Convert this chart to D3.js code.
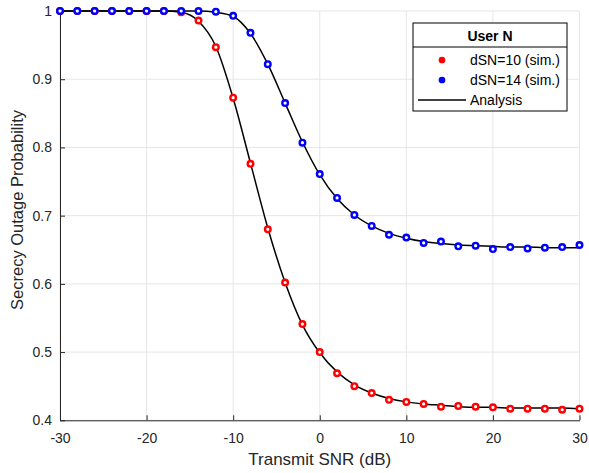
<!DOCTYPE html>
<html>
<head>
<meta charset="utf-8">
<script src="https://cdn.jsdelivr.net/npm/d3@7"></script>
<style>
  html, body { margin: 0; padding: 0; background: #fff; overflow: hidden; }
  svg { display: block; font-family: "Liberation Sans", Arial, sans-serif; }
</style>
</head>
<body>
<svg width="589" height="473"></svg>
<script>
// SNR points (dB)
const snr = [-30, -28, -26, -24, -22, -20, -18, -16, -14, -12, -10, -8, -6, -4, -2,
             0, 2, 4, 6, 8, 10, 12, 14, 16, 18, 20, 22, 24, 26, 28, 30];

// simulated outage probability
const simN10 = [1, 1, 1, 1, 1, 1, 1, 0.998, 0.986, 0.947, 0.873, 0.776, 0.680, 0.602, 0.541,
                0.500, 0.469, 0.450, 0.440, 0.430, 0.427, 0.424, 0.420, 0.421, 0.420, 0.419, 0.417, 0.417, 0.417, 0.4155, 0.417];
const simN14 = [1, 1, 1, 1, 1, 1, 1, 1, 1, 0.999, 0.993, 0.968, 0.922, 0.865, 0.807,
                0.761, 0.726, 0.701, 0.685, 0.672, 0.668, 0.660, 0.662, 0.655, 0.656, 0.651, 0.654, 0.652, 0.653, 0.654, 0.657];

// analytical curves
const anaN10 = [1, 1, 1, 1, 1, 1, 1, 0.998, 0.985, 0.948, 0.872, 0.777, 0.682, 0.602, 0.540,
                0.499, 0.471, 0.452, 0.440, 0.432, 0.427, 0.424, 0.422, 0.420, 0.419, 0.419, 0.418, 0.418, 0.418, 0.418, 0.417];
const anaN14 = [1, 1, 1, 1, 1, 1, 1, 1, 1, 0.998, 0.992, 0.967, 0.922, 0.865, 0.808,
                0.760, 0.725, 0.701, 0.685, 0.674, 0.667, 0.662, 0.659, 0.657, 0.656, 0.655, 0.654, 0.654, 0.653, 0.653, 0.653];

const xTicks = [-30, -20, -10, 0, 10, 20, 30];
const yTicks = [0.4, 0.5, 0.6, 0.7, 0.8, 0.9, 1];

const legendLabels = ["dSN=10 (sim.)", "dSN=14 (sim.)", "Analysis"];

const margin = { top: 11, right: 10, bottom: 53, left: 60 };
const innerWidth = 579.5 - margin.left;
const innerHeight = 420.3 - margin.top;

const axisColor = "#262626";
const gridColor = "#e6e6e6";

const xScale = d3.scaleLinear().domain([-30, 30]).range([0, innerWidth]);
const yScale = d3.scaleLinear().domain([0.4, 1]).range([innerHeight, 0]);

const svg = d3.select("svg");
const g = svg.append("g").attr("transform", `translate(${margin.left},${margin.top})`);

// grid
g.append("g").selectAll("line").data(xTicks).enter().append("line")
    .attr("x1", d => xScale(d)).attr("x2", d => xScale(d))
    .attr("y1", 0).attr("y2", innerHeight)
    .attr("stroke", gridColor).attr("stroke-width", 1);
g.append("g").selectAll("line").data(yTicks).enter().append("line")
    .attr("x1", 0).attr("x2", innerWidth)
    .attr("y1", d => yScale(d)).attr("y2", d => yScale(d))
    .attr("stroke", gridColor).attr("stroke-width", 1);

// axes (ticks point inward, plain hyphen for negatives)
const xAxis = d3.axisBottom(xScale).tickValues(xTicks).tickSizeInner(-5).tickSizeOuter(0)
    .tickFormat(d => String(d));
const yAxis = d3.axisLeft(yScale).tickValues(yTicks).tickSizeInner(-5).tickSizeOuter(0).tickPadding(8)
    .tickFormat(d => String(+d.toFixed(1)));

const gx = g.append("g").attr("transform", `translate(0,${innerHeight})`).call(xAxis);
const gy = g.append("g").call(yAxis);
gx.selectAll(".tick text").attr("dy", null).attr("y", 23);
[gx, gy].forEach(a => {
    a.select(".domain").attr("stroke", axisColor);
    a.selectAll(".tick line").attr("stroke", axisColor);
    a.selectAll(".tick text").attr("fill", axisColor).attr("font-size", 14);
});

// axis labels
svg.append("text")
    .attr("x", margin.left + innerWidth / 2).attr("y", 465)
    .attr("text-anchor", "middle").attr("font-size", 17).attr("fill", axisColor)
    .text("Transmit SNR (dB)");
svg.append("text")
    .attr("transform", `translate(23,210) rotate(-90)`)
    .attr("text-anchor", "middle").attr("font-size", 16.5).attr("fill", axisColor)
    .text("Secrecy Outage Probability");

// analysis lines
const line = d3.line()
    .x((d, i) => xScale(snr[i]))
    .y(d => yScale(d))
    .curve(d3.curveMonotoneX);

[anaN10, anaN14].forEach(arr => {
    g.append("path").datum(arr)
        .attr("d", line)
        .attr("fill", "none")
        .attr("stroke", "#000")
        .attr("stroke-width", 1.5);
});

// simulated markers
function drawMarkers(values, color) {
    g.append("g").selectAll("circle").data(values).enter().append("circle")
        .attr("cx", (d, i) => xScale(snr[i]))
        .attr("cy", d => yScale(d))
        .attr("r", 2.8)
        .attr("fill", "#fff")
        .attr("stroke", color)
        .attr("stroke-width", 2.4);
}
drawMarkers(simN10, "#ff0000");
drawMarkers(simN14, "#0000ff");

// legend
const lg = svg.append("g").attr("transform", "translate(413,23)");
lg.append("rect").attr("width", 154).attr("height", 88)
    .attr("fill", "#fff").attr("stroke", "#000").attr("stroke-width", 1);
lg.append("line").attr("x1", 0).attr("x2", 154).attr("y1", 24).attr("y2", 24)
    .attr("stroke", "#000").attr("stroke-width", 1);
lg.append("text").attr("x", 77).attr("y", 18).attr("text-anchor", "middle")
    .attr("font-size", 14).attr("font-weight", "bold").attr("fill", "#000")
    .text("User N");

const colors = ["#ff0000", "#0000ff"];
legendLabels.forEach((lab, i) => {
    const yy = 37 + i * 20;
    if (i < 2) {
        lg.append("circle").attr("cx", 29).attr("cy", yy).attr("r", 2.6)
            .attr("fill", colors[i]).attr("stroke", colors[i]).attr("stroke-width", 1.5);
    } else {
        lg.append("line").attr("x1", 5).attr("x2", 53).attr("y1", yy).attr("y2", yy)
            .attr("stroke", "#000").attr("stroke-width", 1.5);
    }
    lg.append("text").attr("x", 57).attr("y", yy + 5)
        .attr("font-size", 14).attr("fill", "#000").text(lab);
});
</script>
</body>
</html>
